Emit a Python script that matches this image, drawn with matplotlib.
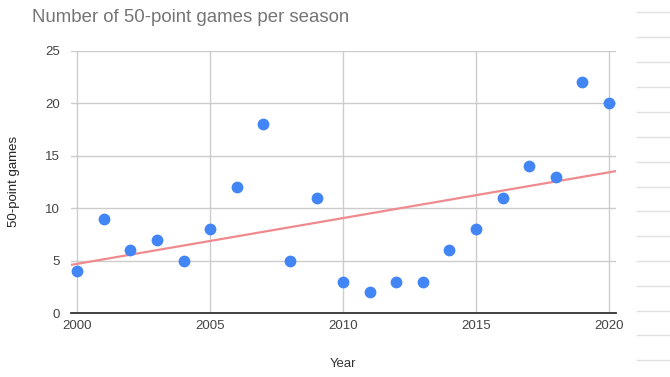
import matplotlib
matplotlib.use("Agg")
import matplotlib.pyplot as plt
import numpy as np
from matplotlib.lines import Line2D

plt.rcParams['font.family'] = ['Liberation Sans', 'DejaVu Sans']

years = [2000, 2001, 2002, 2003, 2004, 2005, 2006, 2007, 2008, 2009, 2010,
         2011, 2012, 2013, 2014, 2015, 2016, 2017, 2018, 2019, 2020]
games = [4, 9, 6, 7, 5, 8, 12, 18, 5, 11, 3, 2, 3, 3, 6, 8, 11, 14, 13, 22, 20]
x_ticks = [2000, 2005, 2010, 2015, 2020]
y_ticks = [0, 5, 10, 15, 20, 25]

W, H = 670, 377
fig = plt.figure(figsize=(W / 100, H / 100), dpi=100)
ax = fig.add_axes([71 / W, 1 - 313 / H, (616 - 71) / W, (313 - 50.7) / H])

xmin, xmax = 1999.77, 2020.26
ax.set_xlim(xmin, xmax)
ax.set_ylim(0, 25)

# trendline
coef = np.polyfit(years, games, 1)
tx = np.array([xmin, xmax])
ax.plot(tx, np.polyval(coef, tx), color='#ef8a8f', lw=1.6, zorder=2)

ax.scatter(years, games, s=72, color='#4285f4', zorder=3, linewidths=0)

ax.set_xticks(x_ticks)
ax.set_yticks(y_ticks)
ax.grid(True, color='#cccccc', lw=1)
ax.set_axisbelow(True)
for s in ['left', 'right', 'top']:
    ax.spines[s].set_visible(False)
ax.spines['bottom'].set_color('#333333')
ax.spines['bottom'].set_linewidth(1.3)
ax.tick_params(axis='both', length=0, labelsize=9.5, colors='#444444')
ax.tick_params(axis='y', pad=8)
ax.tick_params(axis='x', pad=5)
ax.set_xlabel('Year', fontsize=9.5, color='#333333', labelpad=19)
ax.set_ylabel('50-point games', fontsize=9.5, color='#222222', labelpad=18)

fig.text(32 / W, 1 - 18 / H, 'Number of 50-point games per season',
         fontsize=13.4, color='#757575', va='center', ha='left')

# spreadsheet row lines on the right edge
for y in [12, 37, 62, 87, 112, 137, 162, 187, 211, 236, 261, 286, 311, 335, 360]:
    fig.add_artist(Line2D([637 / W, 1.0], [1 - y / H, 1 - y / H],
                          color='#e0e0e0', lw=1, transform=fig.transFigure))

fig.savefig('out.png', dpi=100)
